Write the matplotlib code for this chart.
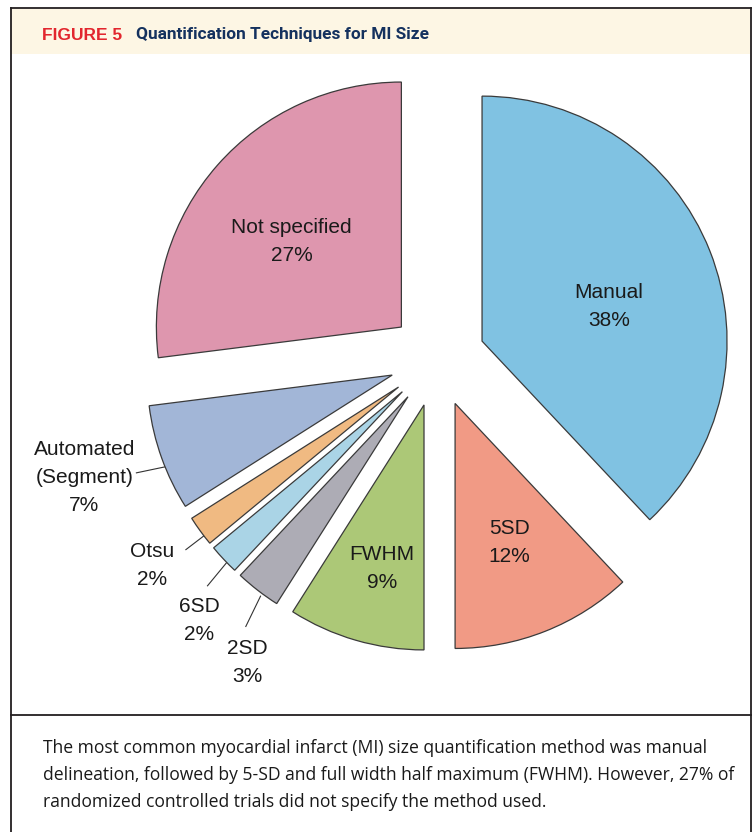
import matplotlib
matplotlib.use("Agg")
import numpy as np
import matplotlib.pyplot as plt
from matplotlib.patches import Rectangle
from matplotlib.lines import Line2D

# ---------------------------------------------------------------------------
# Data
# ---------------------------------------------------------------------------
methods = ["Manual", "5SD", "FWHM", "2SD", "6SD", "Otsu",
           "Automated\n(Segment)", "Not specified"]
shares = [38, 12, 9, 3, 2, 2, 7, 27]
colors = ["#80C2E2", "#F19A85", "#ACC877", "#ADACB5",
          "#AAD4E6", "#F0BA82", "#A2B6D7", "#DE96AE"]

fig_label = "FIGURE 5"
title = "Quantification Techniques for MI Size"
caption = [
    "The most common myocardial infarct (MI) size quantification method was manual",
    "delineation, followed by 5-SD and full width half maximum (FWHM). However, 27% of",
    "randomized controlled trials did not specify the method used.",
]

# ---------------------------------------------------------------------------
# Layout (pixels on a 755 x 832 canvas, y measured from the top)
# ---------------------------------------------------------------------------
W, H = 755, 832
CX, CY, R = 437.4, 358.8, 245.0      # pie centre and radius
EXPLODE = 0.196
LINE_STEP = 28                        # label line spacing, px

# label block position relative to each exploded wedge centre
label_dist = [0.536, 0.61, 0.688, 1.268, 1.25, 1.242, 1.325, 0.569]
label_angle = [15.1, 291.2, 255.6, 238.9, 228.4, 216.0, 198.4, 142.1]
# leader lines for the small slices: (angle start, angle end, r start, r end)
leaders = {3: (233.5, 234.8, 1.01, 1.15),
           4: (224.2, 224.9, 1.00, 1.125),
           5: (217.4, 217.4, 1.00, 1.095),
           6: (202.0, 200.9, 1.00, 1.12)}

TXT = "#1a1a1a"
EDGE = "#3a3a3a"
FRAME = "#231F20"


def fx(x):
    return x / W


def fy(y):
    return 1 - y / H


fig = plt.figure(figsize=(W / 100, H / 100), dpi=100)
fig.patch.set_facecolor("white")

# header band + frame
fig.add_artist(Rectangle((fx(11), fy(54)), fx(750) - fx(11), fy(9) - fy(54),
                         transform=fig.transFigure, facecolor="#FDF6E4",
                         edgecolor="none", zorder=-1))
fr = dict(color=FRAME, linewidth=1.3, transform=fig.transFigure, zorder=5)
fig.add_artist(Line2D([fx(10.7), fx(10.7)], [fy(8.3), fy(H + 2)], **fr))
fig.add_artist(Line2D([fx(751), fx(751)], [fy(8.3), fy(H + 2)], **fr))
fig.add_artist(Line2D([fx(10.7), fx(751)], [fy(8.3), fy(8.3)], **fr))
fig.add_artist(Line2D([fx(10.7), fx(751)], [fy(715), fy(715)], **fr))

# ---------------------------------------------------------------------------
# Pie
# ---------------------------------------------------------------------------
ax = fig.add_axes([0, 0, 1, 1])
ax.set_facecolor("none")
wedges, _ = ax.pie(shares, colors=colors, startangle=90, counterclock=False,
                   explode=[EXPLODE] * len(shares), radius=1,
                   wedgeprops=dict(edgecolor=EDGE, linewidth=0.9))
ax.set_xlim(-CX / R, (W - CX) / R)
ax.set_ylim(-(H - CY) / R, CY / R)
ax.set_aspect("auto")
ax.axis("off")

for i, w in enumerate(wedges):
    c0x, c0y = w.center
    a = np.radians(label_angle[i])
    bx = c0x + label_dist[i] * np.cos(a)
    by = c0y + label_dist[i] * np.sin(a)
    lines = methods[i].split("\n") + [f"{shares[i]}%"]
    n = len(lines)
    for k, s in enumerate(lines):
        dy = ((n - 1) / 2 - k) * LINE_STEP / R
        ax.text(bx, by + dy, s, ha="center", va="center", fontsize=15,
                color=TXT, family=["Liberation Sans", "DejaVu Sans"])
    if i in leaders:
        a1, a2, r1, r2 = leaders[i]
        a1, a2 = np.radians(a1), np.radians(a2)
        ax.plot([c0x + r1 * np.cos(a1), c0x + r2 * np.cos(a2)],
                [c0y + r1 * np.sin(a1), c0y + r2 * np.sin(a2)],
                color="#333333", lw=0.8, solid_capstyle="butt")

# ---------------------------------------------------------------------------
# Header and caption text, fitted to the widths measured on the original
# ---------------------------------------------------------------------------
renderer = fig.canvas.get_renderer()


def fit(t, width_px):
    w = t.get_window_extent(renderer=renderer).width
    t.set_fontsize(t.get_fontsize() * width_px / w)


t1 = fig.text(fx(42), fy(39.5), fig_label, ha="left", va="baseline",
              fontsize=11, fontweight="bold", color="#E2262E",
              family=["Liberation Sans", "DejaVu Sans"])
fit(t1, 80)
t2 = fig.text(fx(136), fy(39.5), title, ha="left", va="baseline",
              fontsize=12, fontweight="bold", color="#14315E",
              family=["Liberation Sans Narrow", "Roboto", "DejaVu Sans"])
fit(t2, 292)

cap = []
for k, line in enumerate(caption):
    cap.append(fig.text(fx(42.7), fy(752.7 + 27 * k), line, ha="left",
                        va="baseline", fontsize=12, color=TXT,
                        family=["Open Sans", "DejaVu Sans"]))
# both full lines end near x=718 in the original: fit their mean width
w_mean = np.mean([cap[j].get_window_extent(renderer=renderer).width
                  for j in (0, 1)])
for t in cap:
    t.set_fontsize(12 * 676 / w_mean)

fig.savefig("out.png", dpi=100)
